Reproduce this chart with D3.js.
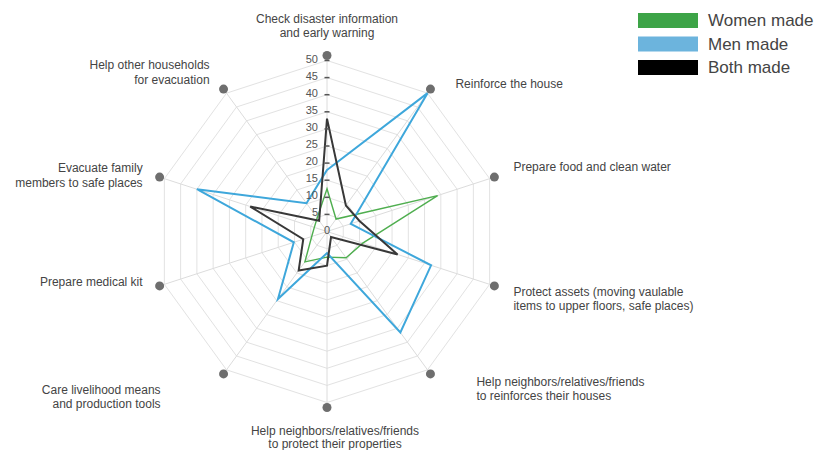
<!DOCTYPE html>
<html>
<head>
<meta charset="utf-8">
<script src="https://cdn.jsdelivr.net/npm/d3@7"></script>
<style>
  html, body { margin: 0; padding: 0; background: #fff; }
  svg { display: block; font-family: "Liberation Sans", Arial, sans-serif; }
</style>
</head>
<body>
<svg id="chart" width="825" height="450"></svg>
<script>
// ---- data ----
const categories = [
  ["Check disaster information", "and early warning"],
  ["Reinforce the house"],
  ["Prepare food and clean water"],
  ["Protect assets (moving vaulable", "items to upper floors, safe places)"],
  ["Help neighbors/relatives/friends", "to reinforces their houses"],
  ["Help neighbors/relatives/friends", "to protect their properties"],
  ["Care livelihood means", "and production tools"],
  ["Prepare medical kit"],
  ["Evacuate family", "members to safe places"],
  ["Help other households", "for evacuation"]
];
const seriesNames = ["Women made", "Men made", "Both made"];
const womenMade = [12.5, 4.5, 34, 11, 9.5, 7.5, 11, 4.7, 3.9, 4.9];
const menMade   = [18, 50, 7.3, 32, 36.5, 6.3, 24.4, 10.2, 40, 10.2];
const bothMade  = [33, 9.4, 10, 21.7, 2, 10, 14.1, 7.3, 23.6, 3.9];
const tickValues = [0, 5, 10, 15, 20, 25, 30, 35, 40, 45, 50];

// ---- layout ----
const svg = d3.select("#chart");
const cx = 327, cy = 231.5;
const n = categories.length;
const rScale = d3.scaleLinear().domain([0, 50]).range([0, 171]);
const angle = d3.scaleLinear().domain([0, n]).range([0, 2 * Math.PI]);
const dotR = rScale.range()[1] + 5;

const g = svg.append("g").attr("transform", `translate(${cx},${cy})`);

const radial = d3.lineRadial()
  .angle((d, i) => angle(i))
  .radius(d => rScale(d))
  .curve(d3.curveLinearClosed);

// grid polygons
g.append("g").selectAll("path")
  .data(tickValues.filter(t => t > 0))
  .join("path")
  .attr("d", t => radial(d3.range(n).map(() => t)))
  .attr("fill", "none")
  .attr("stroke", "#e2e2e2")
  .attr("stroke-width", 1);

// axes
const px = (i, r) => r * Math.sin(angle(i));
const py = (i, r) => -r * Math.cos(angle(i));
g.append("g").selectAll("line")
  .data(d3.range(n))
  .join("line")
  .attr("x1", 0).attr("y1", 0)
  .attr("x2", i => px(i, dotR)).attr("y2", i => py(i, dotR))
  .attr("stroke", "#dcdcdc")
  .attr("stroke-width", 1);

// series
const series = [
  { values: womenMade, color: "#4fae4f", width: 1.4 },
  { values: menMade, color: "#3ea7db", width: 2 },
  { values: bothMade, color: "#383838", width: 2 }
];
g.append("g").selectAll("path")
  .data(series)
  .join("path")
  .attr("d", s => radial(s.values))
  .attr("fill", "none")
  .attr("stroke", s => s.color)
  .attr("stroke-width", s => s.width)
  .attr("stroke-linejoin", "miter");

// tick marks and labels on the top axis
const tg = g.append("g");
tg.selectAll("line")
  .data(tickValues.filter(t => t > 0))
  .join("line")
  .attr("x1", -2.5).attr("x2", 2.5)
  .attr("y1", t => -rScale(t)).attr("y2", t => -rScale(t))
  .attr("stroke", "#555").attr("stroke-width", 1.5);
tg.selectAll("text")
  .data(tickValues)
  .join("text")
  .attr("x", t => t === 0 ? 0 : -9)
  .attr("y", t => -rScale(t) + (t === 0 ? 2.5 : 2))
  .attr("text-anchor", t => t === 0 ? "middle" : "end")
  .attr("font-size", 11)
  .attr("fill", "#555")
  .text(t => t);

// end dots
g.append("g").selectAll("circle")
  .data(d3.range(n))
  .join("circle")
  .attr("cx", i => px(i, dotR)).attr("cy", i => py(i, dotR))
  .attr("r", 4.5)
  .attr("fill", "#6e6e6e");

// category labels (anchor, dx, dy of first line relative to the dot, line gap)
const labelLayout = [
  ["middle", 0, -37, 14.5], ["start", 25, -5, 14.5], ["start", 19, -10, 14.5], ["start", 19, 6, 14.5],
  ["start", 46, 8, 14.5], ["middle", 8, 23, 13], ["end", -63, 16, 14.5], ["end", -17, -4, 14.5],
  ["end", -17, -9, 14.5], ["end", -14, -24, 14.5]
];
const lg = g.append("g");
categories.forEach((lines, i) => {
  const [anchor, dx, dy, gap] = labelLayout[i];
  const t = lg.append("text")
    .attr("text-anchor", anchor)
    .attr("font-size", 12)
    .attr("fill", "#444");
  lines.forEach((line, k) => {
    t.append("tspan")
      .attr("x", px(i, dotR) + dx)
      .attr("y", py(i, dotR) + dy + 4 + k * gap)
      .text(line);
  });
});

// legend
const legendColors = ["#3da447", "#6cb4dd", "#000000"];
const legend = svg.append("g").attr("transform", "translate(638,13)");
const li = legend.selectAll("g")
  .data(seriesNames)
  .join("g")
  .attr("transform", (d, i) => `translate(0,${i * 23.5})`);
li.append("rect")
  .attr("width", 60).attr("height", 15)
  .attr("fill", (d, i) => legendColors[i]);
li.append("text")
  .attr("x", 70).attr("y", 13)
  .attr("font-size", 17)
  .attr("fill", "#444")
  .text(d => d);
</script>
</body>
</html>
